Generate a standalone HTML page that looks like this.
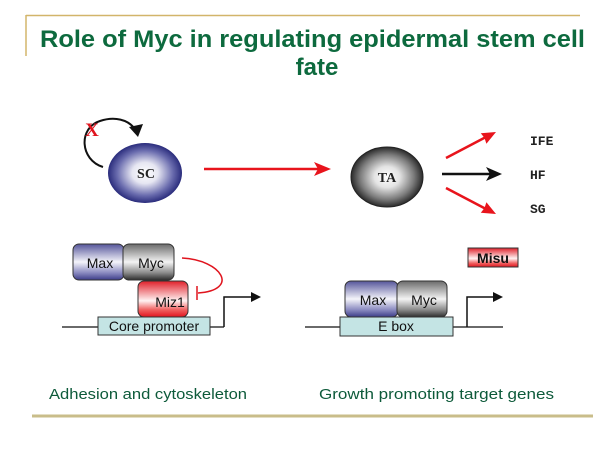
<!DOCTYPE html>
<html><head><meta charset="utf-8"><style>
html,body{margin:0;padding:0;background:#fff;}
svg{display:block;}
</style></head><body>
<svg width="616" height="462" viewBox="0 0 616 462" xmlns="http://www.w3.org/2000/svg">
<defs>
<radialGradient id="gSC" cx="50%" cy="50%" r="50%">
<stop offset="0" stop-color="#ffffff"/><stop offset="0.35" stop-color="#e6e6f2"/><stop offset="0.75" stop-color="#6a6cae"/><stop offset="1" stop-color="#2a2c7c"/>
</radialGradient>
<radialGradient id="gTA" cx="50%" cy="50%" r="50%">
<stop offset="0" stop-color="#ffffff"/><stop offset="0.35" stop-color="#e4e4e4"/><stop offset="0.75" stop-color="#7a7a7a"/><stop offset="1" stop-color="#2a2a2a"/>
</radialGradient>
<linearGradient id="gMax" x1="0" y1="0" x2="0" y2="1">
<stop offset="0" stop-color="#55559a"/><stop offset="0.5" stop-color="#f4f4fa"/><stop offset="0.8" stop-color="#8a8ac0"/><stop offset="1" stop-color="#3c3c88"/>
</linearGradient>
<linearGradient id="gMyc" x1="0" y1="0" x2="0" y2="1">
<stop offset="0" stop-color="#6a6a6a"/><stop offset="0.5" stop-color="#f4f4f4"/><stop offset="0.8" stop-color="#8a8a8a"/><stop offset="1" stop-color="#2e2e2e"/>
</linearGradient>
<linearGradient id="gRed" x1="0" y1="0" x2="0" y2="1">
<stop offset="0" stop-color="#e0202a"/><stop offset="0.55" stop-color="#fff2f2"/><stop offset="0.8" stop-color="#f06060"/><stop offset="1" stop-color="#e0141e"/>
</linearGradient>
</defs>

<!-- gold frame lines -->
<line x1="26" y1="15.5" x2="580" y2="15.5" stroke="#d2b56a" stroke-width="1.5"/>
<line x1="26" y1="15" x2="26" y2="56" stroke="#d2b56a" stroke-width="1.5"/>
<line x1="32" y1="416" x2="593" y2="416" stroke="#c9bd8a" stroke-width="3"/>

<!-- title -->
<text x="40" y="47" font-family="Liberation Sans, sans-serif" font-size="24" font-weight="bold" fill="#0d6a3e" textLength="545" lengthAdjust="spacingAndGlyphs">Role of Myc in regulating epidermal stem cell</text>
<text x="317" y="75" text-anchor="middle" font-family="Liberation Sans, sans-serif" font-size="24" font-weight="bold" fill="#0d6a3e">fate</text>

<!-- SC -->
<ellipse cx="145" cy="173" rx="37" ry="30" fill="url(#gSC)"/>
<text x="146" y="178" text-anchor="middle" font-family="Liberation Serif, serif" font-size="14" font-weight="bold" fill="#222">SC</text>
<path d="M103,167 C 80,160 78,128 100,121 C 115,116 128,120 134,128" fill="none" stroke="#111" stroke-width="2"/>
<polygon points="129,127 143,124 138,137" fill="#111"/>
<text x="92" y="136" text-anchor="middle" font-family="Liberation Serif, serif" font-size="19" font-weight="bold" fill="#e0141e">X</text>

<!-- main red arrow -->
<line x1="204" y1="169" x2="318" y2="169" stroke="#e8141c" stroke-width="2.5"/>
<polygon points="331,169 314,162 318,169 314,176" fill="#e8141c"/>

<!-- TA -->
<ellipse cx="387" cy="177" rx="36" ry="30" fill="url(#gTA)" stroke="#222" stroke-width="1"/>
<text x="387" y="182" text-anchor="middle" font-family="Liberation Serif, serif" font-size="14" font-weight="bold" fill="#222">TA</text>

<!-- branch arrows -->
<line x1="446" y1="158" x2="486" y2="137" stroke="#e8141c" stroke-width="2.5"/>
<polygon points="496,132 486.4,143.8 484.5,138 480.8,133.2" fill="#e8141c"/>
<line x1="442" y1="174" x2="490" y2="174" stroke="#111" stroke-width="2.5"/>
<polygon points="502,174 486,167 490,174 486,181" fill="#111"/>
<line x1="446" y1="188" x2="486" y2="209" stroke="#e8141c" stroke-width="2.5"/>
<polygon points="496,214 480.8,212.8 484.5,208 486.4,202.2" fill="#e8141c"/>

<text x="530" y="145" font-family="Liberation Mono, monospace" font-size="13" font-weight="bold" fill="#222">IFE</text>
<text x="530" y="179" font-family="Liberation Mono, monospace" font-size="13" font-weight="bold" fill="#222">HF</text>
<text x="530" y="213" font-family="Liberation Mono, monospace" font-size="13" font-weight="bold" fill="#222">SG</text>

<!-- left promoter diagram -->
<line x1="62" y1="327" x2="224" y2="327" stroke="#111" stroke-width="1.2"/>
<polyline points="224,327 224,297 252,297" fill="none" stroke="#111" stroke-width="1.5"/>
<polygon points="261,297 251,292 251,302" fill="#111"/>
<rect x="98" y="317" width="112" height="18" fill="#c4e4e4" stroke="#333" stroke-width="1"/>
<text x="154" y="331" text-anchor="middle" font-family="Liberation Sans, sans-serif" font-size="14" fill="#111">Core promoter</text>

<rect x="73" y="244" width="51" height="36" rx="6" fill="url(#gMax)" stroke="#333" stroke-width="1"/>
<text x="100" y="268" text-anchor="middle" font-family="Liberation Sans, sans-serif" font-size="14" fill="#111">Max</text>
<rect x="123" y="244" width="51" height="36" rx="6" fill="url(#gMyc)" stroke="#333" stroke-width="1"/>
<text x="151" y="268" text-anchor="middle" font-family="Liberation Sans, sans-serif" font-size="14" fill="#111">Myc</text>
<rect x="138" y="281" width="50" height="36" rx="6" fill="url(#gRed)" stroke="#333" stroke-width="1"/>
<text x="170" y="307" text-anchor="middle" font-family="Liberation Sans, sans-serif" font-size="14" fill="#111">Miz1</text>

<path d="M182,258 C 222,260 240,290 198,293" fill="none" stroke="#e0141e" stroke-width="1.5"/>
<line x1="197" y1="286" x2="197" y2="300" stroke="#e0141e" stroke-width="1.5"/>

<!-- right promoter diagram -->
<line x1="305" y1="327" x2="503" y2="327" stroke="#111" stroke-width="1.2"/>
<polyline points="467,327 467,297 494,297" fill="none" stroke="#111" stroke-width="1.5"/>
<polygon points="503,297 493,292 493,302" fill="#111"/>
<rect x="340" y="317" width="113" height="19" fill="#c4e4e4" stroke="#333" stroke-width="1"/>
<text x="396" y="331" text-anchor="middle" font-family="Liberation Sans, sans-serif" font-size="14" fill="#111">E box</text>

<rect x="345" y="281" width="53" height="36" rx="6" fill="url(#gMax)" stroke="#333" stroke-width="1"/>
<text x="373" y="305" text-anchor="middle" font-family="Liberation Sans, sans-serif" font-size="14" fill="#111">Max</text>
<rect x="397" y="281" width="50" height="36" rx="6" fill="url(#gMyc)" stroke="#333" stroke-width="1"/>
<text x="424" y="305" text-anchor="middle" font-family="Liberation Sans, sans-serif" font-size="14" fill="#111">Myc</text>

<rect x="468" y="248" width="50" height="19" fill="url(#gRed)" stroke="#333" stroke-width="1"/>
<text x="493" y="263" text-anchor="middle" font-family="Liberation Sans, sans-serif" font-size="14" font-weight="bold" fill="#111">Misu</text>

<!-- bottom captions -->
<text x="49" y="399" font-family="Liberation Sans, sans-serif" font-size="15" fill="#0d5a3a" textLength="198" lengthAdjust="spacingAndGlyphs">Adhesion and cytoskeleton</text>
<text x="319" y="399" font-family="Liberation Sans, sans-serif" font-size="15" fill="#0d5a3a" textLength="235" lengthAdjust="spacingAndGlyphs">Growth promoting target genes</text>
</svg>
</body></html>
